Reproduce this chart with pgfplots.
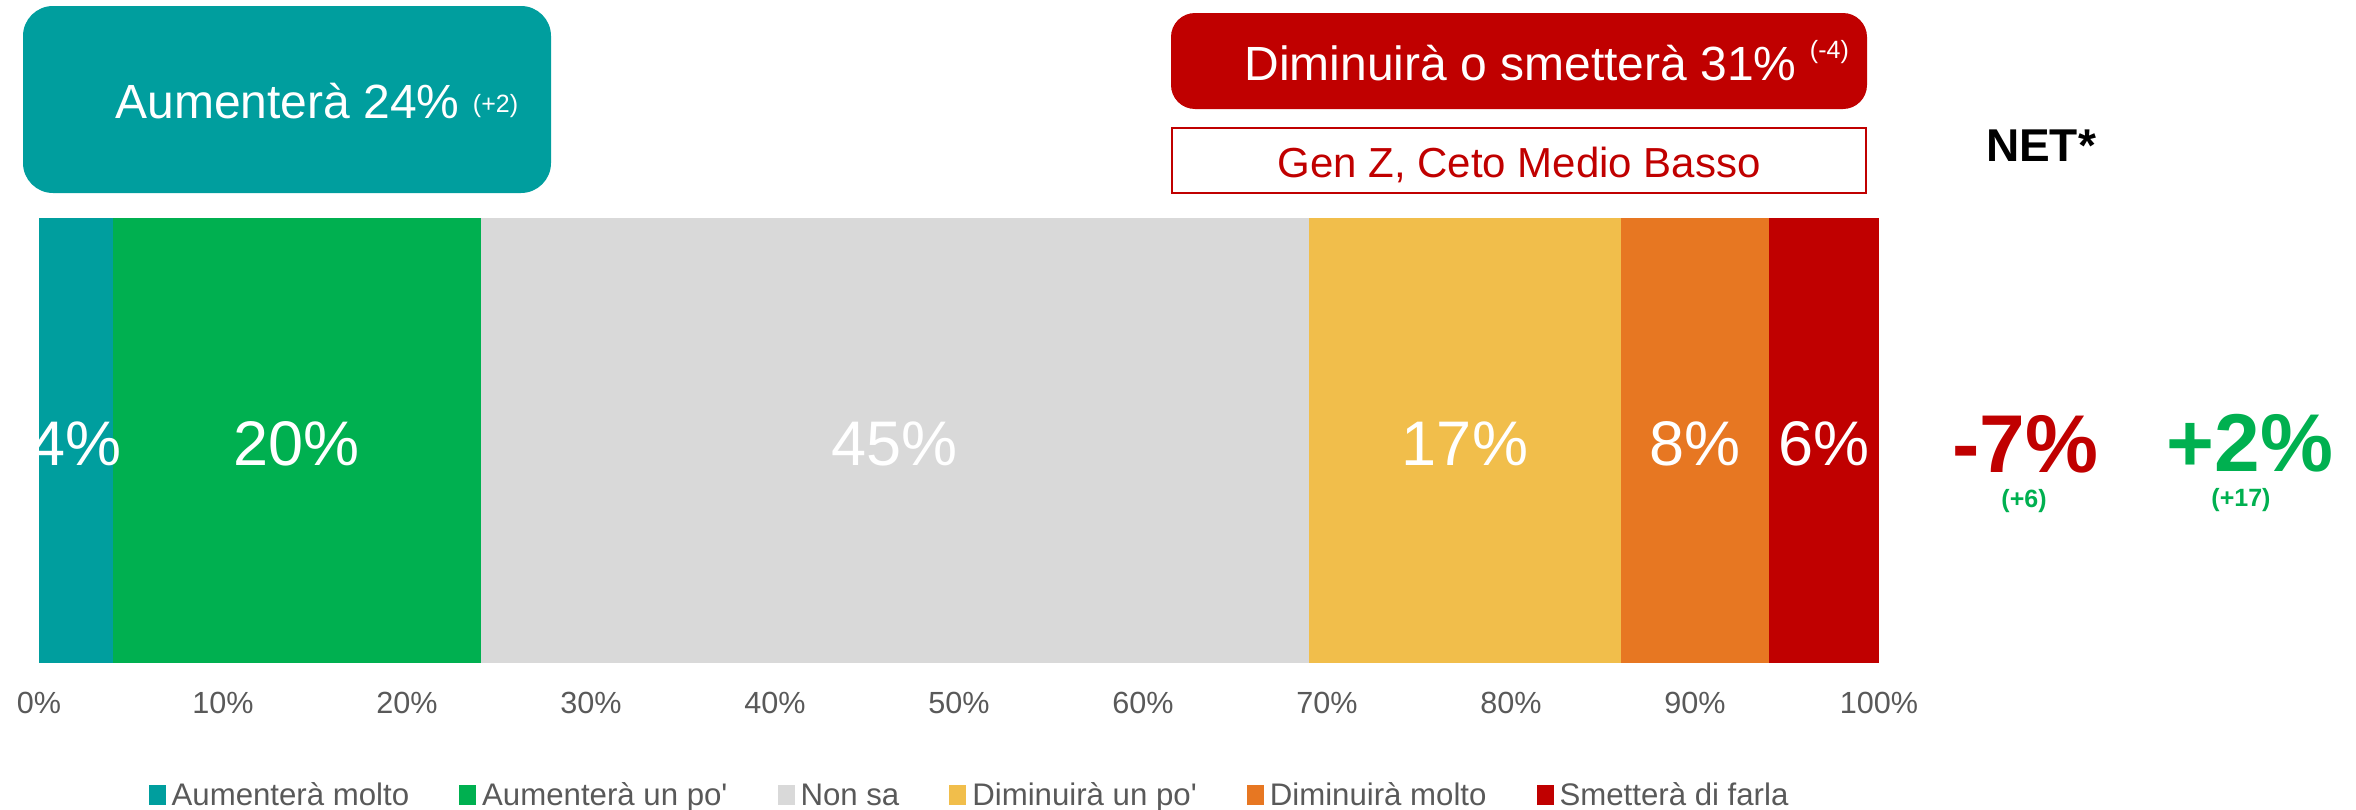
\documentclass[border=0pt]{standalone}
\usepackage{pgfplots}
\pgfplotsset{compat=1.18}
\usepackage{fontspec}
\setmainfont{Liberation Sans}
\definecolor{cteal}{HTML}{009E9E}
\definecolor{cgreen}{HTML}{00B050}
\definecolor{cgray}{HTML}{D9D9D9}
\definecolor{cyellow}{HTML}{F1BE4B}
\definecolor{corange}{HTML}{E77722}
\definecolor{cred}{HTML}{C00000}
\definecolor{ctext}{HTML}{595959}
\begin{document}
\begin{tikzpicture}[x=0.5pt,y=-0.5pt]
\path[use as bounding box] (0,0) rectangle (2356,809);
\coordinate (O) at (39,663);
\begin{axis}[at={(O)}, anchor=south west, scale only axis,
  width=920pt, height=222.5pt,
  xbar stacked, bar width=222.5pt,
  xmin=0, xmax=100, ymin=-0.5, ymax=0.5,
  axis line style={draw=none}, major tick length=0pt, ytick=\empty,
  xtick={0,10,20,30,40,50,60,70,80,90,100},
  xticklabels={0\%,10\%,20\%,30\%,40\%,50\%,60\%,70\%,80\%,90\%,100\%},
  xticklabel style={anchor=base, yshift=-25pt, font=\fontsize{15.3}{18}\selectfont, text=ctext},
  legend columns=-1,
  legend cell align=left,
  legend style={draw=none, fill=none, at={(0.5068,-0.297)}, anchor=center,
    font=\fontsize{15.6}{18}\selectfont, text=ctext,
    cells={anchor=base west},
    /tikz/every even column/.append style={column sep=22pt},
    nodes={inner xsep=3pt, inner ysep=1pt}},
  legend image code/.code={\fill[#1] (0pt,0pt) rectangle (8.5pt,10pt);},
]
\addplot[fill=cteal, draw=none] coordinates {(4,0)};
\addplot[fill=cgreen, draw=none] coordinates {(20,0)};
\addplot[fill=cgray, draw=none] coordinates {(45,0)};
\addplot[fill=cyellow, draw=none] coordinates {(17,0)};
\addplot[fill=corange, draw=none] coordinates {(8,0)};
\addplot[fill=cred, draw=none] coordinates {(6,0)};
\legend{Aumenterà molto, Aumenterà un po\textquotesingle, Non sa, Diminuirà un po\textquotesingle, Diminuirà molto, Smetterà di farla}
\end{axis}
\begin{scope}
\clip (39,0) rectangle (2356,809);
\begin{axis}[at={(O)}, anchor=south west, scale only axis,
  width=920pt, height=222.5pt,
  xmin=0, xmax=100, ymin=-0.5, ymax=0.5, hide axis]
\addplot[draw=none, mark=none, nodes near coords, point meta=explicit symbolic,
  every node near coord/.append style={anchor=base, yshift=-12.25pt, text=white, font=\fontsize{31.5}{36}\selectfont}]
  coordinates {(2,0) [4\%] (14,0) [20\%] (46.5,0) [45\%] (77.5,0) [17\%] (90,0) [8\%] (97,0) [6\%]};
\end{axis}
\end{scope}
\fill[cteal, rounded corners=15pt] (23,6) rectangle (551,193);
\node[anchor=base west, inner sep=0pt, text=white] at (115,118) {\fontsize{24}{28}\selectfont Aumenterà 24\% \fontsize{12.5}{15}\selectfont\raisebox{2.6pt}{(+2)}};
\fill[cred, rounded corners=12pt] (1171,13) rectangle (1867,109);
\node[anchor=base west, inner sep=0pt, text=white] at (1244,80) {\fontsize{24}{28}\selectfont Diminuirà o smetterà 31\% \fontsize{12.5}{15}\selectfont\raisebox{11pt}{(-4)}};
\draw[cred, line width=1pt] (1172,128) rectangle (1866,193);
\node[anchor=base, inner sep=0pt, text=cred] at (1519,177) {\fontsize{21}{25}\selectfont Gen Z, Ceto Medio Basso};
\node[anchor=base, inner sep=0pt] at (2041,161) {\fontsize{23}{27}\selectfont\bfseries NET*};
\node[anchor=base, inner sep=0pt, text=cred] at (2025,472) {\fontsize{41}{48}\selectfont\bfseries -7\%};
\node[anchor=base, inner sep=0pt, text=cgreen] at (2024,507) {\fontsize{12.5}{15}\selectfont\bfseries (+6)};
\node[anchor=base, inner sep=0pt, text=cgreen] at (2250,471) {\fontsize{41}{48}\selectfont\bfseries +2\%};
\node[anchor=base, inner sep=0pt, text=cgreen] at (2241,506) {\fontsize{12.5}{15}\selectfont\bfseries (+17)};
\end{tikzpicture}
\end{document}
